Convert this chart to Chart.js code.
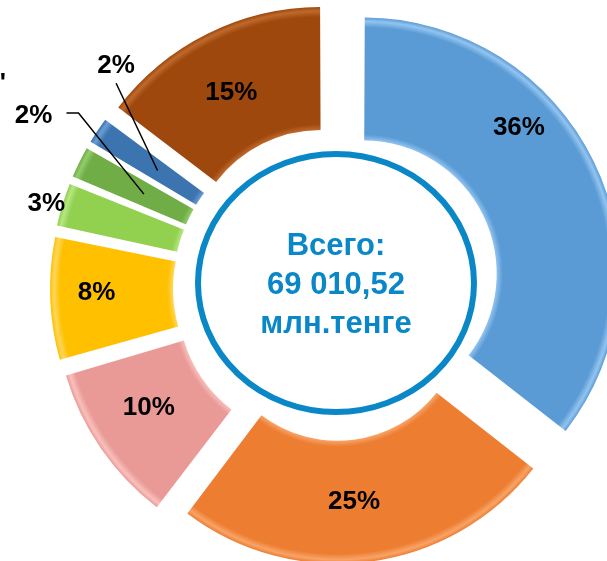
<!doctype html>
<html>
<head>
<meta charset="utf-8">
<title>Всего</title>
<script src="https://cdn.jsdelivr.net/npm/chart.js@4.4.0/dist/chart.umd.min.js"></script>
<style>
  html, body { margin: 0; padding: 0; background: #fff; overflow: hidden; }
  #wrap { position: absolute; left: 0; top: 0; width: 668px; height: 576px; }
</style>
</head>
<body>
<div id="wrap"><canvas id="donut" width="668" height="576"></canvas></div>
<script>
// shares of the total, clockwise from 12 o'clock
var categories = ['Категория 1', 'Категория 2', 'Категория 3', 'Категория 4',
                  'Категория 5', 'Категория 6', 'Категория 7', 'Категория 8'];
var shares = [35.6, 24.7, 10.2, 7.8, 2.9, 2.2, 1.9, 14.7];
var totalLines = ['Всего:', '69 010,52', 'млн.тенге'];

var colors = ['#5B9BD5', '#ED7D31', '#EA9A96', '#FFC000', '#92D050', '#70AD47', '#3C74B0', '#9E480E'];
var rims   = ['#92C4F0', '#F8A468', '#F8C0BC', '#FFD75A', '#B6E682', '#93CC6C', '#6A9DD4', '#C0692C'];
var explode = [40, 27, 34, 35, 35, 35, 35, 35];
var outerR = 249, innerR = 126;
// where each percent label sits: [degrees clockwise from top, distance from centre]
var labelPolar = [[49, 245], [174.6, 214], [237.3, 220], [269, 237.5],
                  [286.5, 300], [300, 347], [315.7, 312], [332.3, 221]];

function arcFix(c) {
    var data = c.dataset.data;
    var total = data.reduce(function (a, b) { return a + b; }, 0);
    var circ = data[c.dataIndex] / total * 2 * Math.PI;
    return 1 - Math.sin(Math.min(Math.PI, circ));
}

// chart.js moves an arc by offset/4 and grows it by offset*fix/4
function arcOffset(c) {
    return 4 * explode[c.dataIndex] / (1 + arcFix(c));
}

// soft bevel: lighter bands along the inner and outer rims
function arcFill(c) {
    var i = c.dataIndex;
    var area = c.chart.chartArea;
    if (!area) return colors[i];
    var x = (area.left + area.right) / 2, y = (area.top + area.bottom) / 2;
    var grow = arcOffset(c) * arcFix(c) / 4;
    var r0 = innerR + grow, r1 = outerR + grow, w = r1 - r0;
    var g = c.chart.ctx.createRadialGradient(x, y, r0, x, y, r1);
    g.addColorStop(0, rims[i]);
    g.addColorStop(6 / w, colors[i]);
    g.addColorStop(1 - 10 / w, colors[i]);
    g.addColorStop(1 - 4 / w, rims[i]);
    g.addColorStop(1, colors[i]);
    return g;
}

var overlay = {
    id: 'overlay',
    afterDatasetsDraw: function (chart) {
        var ctx = chart.ctx;
        var arcs = chart.getDatasetMeta(0).data;
        var cx = arcs[0].x, cy = arcs[0].y;
        var total = shares.reduce(function (a, b) { return a + b; }, 0);
        ctx.save();

        // ring round the total
        ctx.beginPath();
        ctx.ellipse(cx + 2, cy - 5, 138, 129, 0, 0, 2 * Math.PI);
        ctx.lineWidth = 6;
        ctx.strokeStyle = '#0A87C7';
        ctx.stroke();

        ctx.fillStyle = '#0A87C7';
        ctx.font = 'bold 31px "Liberation Sans", Arial, sans-serif';
        ctx.textAlign = 'center';
        ctx.textBaseline = 'alphabetic';
        totalLines.forEach(function (t, i) {
            ctx.fillText(t, cx + 2, cy - 33 + i * 39);
        });

        // percent labels
        ctx.fillStyle = '#000';
        ctx.font = 'bold 26px "Liberation Sans", Arial, sans-serif';
        ctx.textBaseline = 'middle';
        var pos = [];
        arcs.forEach(function (arc, i) {
            var p = labelPolar[i];
            var a = (p[0] - 90) * Math.PI / 180;
            var x = cx + p[1] * Math.cos(a), y = cy + p[1] * Math.sin(a);
            pos.push([x, y]);
            ctx.fillText(Math.round(shares[i] / total * 100) + '%', x, y + 1);
        });

        // leader lines for the two thin slices
        function arcPoint(i) {
            var a = arcs[i];
            var mid = (a.startAngle + a.endAngle) / 2;
            var r = (a.innerRadius + a.outerRadius) / 2 + explode[i] * 0.7;
            return [cx + r * Math.cos(mid), cy + r * Math.sin(mid)];
        }
        ctx.strokeStyle = '#000';
        ctx.lineWidth = 1.5;
        var g = pos[5], e = arcPoint(5);
        ctx.beginPath();
        ctx.moveTo(g[0] + 33, g[1] - 1.5);
        ctx.lineTo(g[0] + 45, g[1] - 1.5);
        ctx.lineTo(e[0], e[1]);
        ctx.stroke();
        var b = pos[6], f = arcPoint(6);
        ctx.beginPath();
        ctx.moveTo(b[0], b[1] + 18.5);
        ctx.lineTo(f[0], f[1]);
        ctx.stroke();

        // clipped legend quote at the left edge
        ctx.textAlign = 'left';
        ctx.textBaseline = 'alphabetic';
        ctx.fillText('"', -6, 91);
        ctx.restore();
    }
};

var ctx = document.getElementById('donut').getContext('2d');
var chart = new Chart(ctx, {
    type: 'doughnut',
    data: {
        labels: categories,
        datasets: [{
            data: shares,
            backgroundColor: arcFill,
            borderWidth: 0,
            offset: arcOffset,
            hoverOffset: 0
        }]
    },
    options: {
        responsive: false,
        animation: false,
        events: [],
        radius: outerR,
        cutout: (innerR / outerR * 100) + '%',
        layout: { padding: 0 },
        plugins: {
            legend: { display: false },
            tooltip: { enabled: false }
        }
    },
    plugins: [overlay]
});
</script>
</body>
</html>
